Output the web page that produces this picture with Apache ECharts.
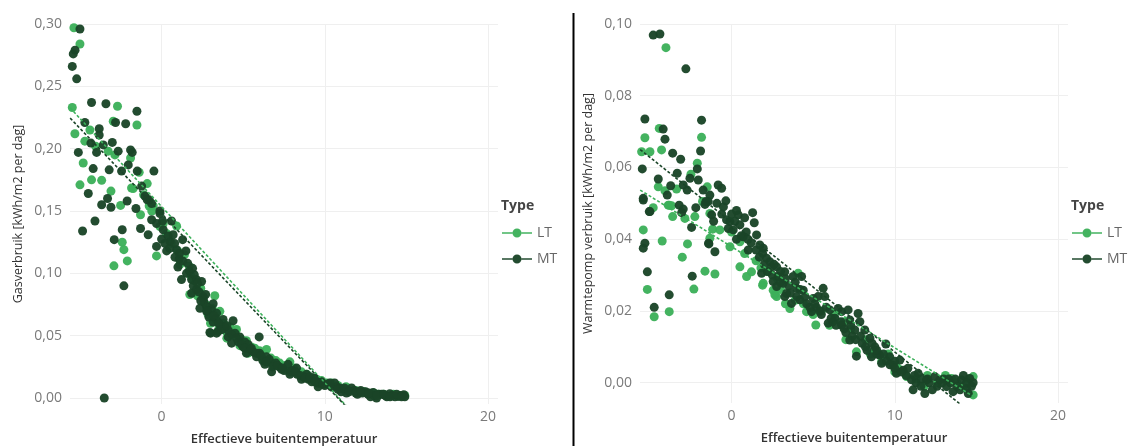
<!DOCTYPE html>
<html>
<head>
<meta charset="utf-8">
<script src="https://cdn.jsdelivr.net/npm/echarts@6/dist/echarts.min.js"></script>
<style>
html,body{margin:0;padding:0;background:#fff;}
#chart{width:1135px;height:446px;}
</style>
</head>
<body>
<div id="chart"></div>
<script>
// ---------- data ----------
const typeNames = ['LT', 'MT'];
const xTitle = 'Effectieve buitentemperatuur';
const yTitleGas = 'Gasverbruik [kWh/m2 per dag]';
const yTitleWp = 'Warmtepomp verbruik [kWh/m2 per dag]';

// Left panel: gas use, LT
const gasLT = [
 [-5.37,0.297],[-5.0,0.284],[-5.47,0.233],[-2.7,0.234],[-2.96,0.222],[-1.51,0.219],[-4.39,0.215],[-5.31,0.212],
 [-4.7,0.206],[-4.04,0.202],[-3.27,0.198],[-2.86,0.195],[-1.9,0.1925],[-4.8,0.1885],[-1.37,0.181],[-4.29,0.175],
 [-3.67,0.1746],[-5.0,0.171],[-0.88,0.172],[-1.84,0.1685],[-3.1,0.166],[-1.74,0.168],[-2.51,0.1545],[-0.76,0.154],
 [-1.29,0.147],[-0.51,0.154],[-2.41,0.125],[-2.31,0.119],[-2.1,0.110],[-2.92,0.106],[-0.1,0.1376],[0.92,0.138],
 [-0.31,0.114],[1.12,0.107],[1.69,0.1056],[1.73,0.083],[2.85,0.067],[3.26,0.082],[3.57,0.0695],[3.98,0.053],
 [4.59,0.055],[5.71,0.040],[6.43,0.039],[7.24,0.028],[7.86,0.029],[8.57,0.021],[10.41,0.012],
 [0.3,0.132],[0.6,0.124],[1.4,0.115],[2.0,0.094],[2.4,0.088],[2.7,0.075],[3.1,0.072],[3.4,0.062],[3.8,0.060],
 [4.2,0.057],[4.5,0.050],[4.9,0.047],[5.2,0.046],[5.5,0.041],[6.0,0.038],[6.7,0.032],[7.0,0.030],[7.6,0.026],
 [8.1,0.024],[8.9,0.019],[9.3,0.016],[9.8,0.014],[10.1,0.012],[10.8,0.010],[11.3,0.009],[11.9,0.006],[12.4,0.005],
 [13.0,0.004],[13.6,0.003],[14.2,0.003],[14.6,0.002],[-0.6,0.150],[-1.1,0.163],[0.1,0.140],
 [1.0,0.118],[1.8,0.098],[2.2,0.082],[3.0,0.060],[3.5,0.055],[4.0,0.048],[4.8,0.042],[5.3,0.036],[6.2,0.031],
 [6.9,0.027],[7.5,0.023],[8.4,0.019],[9.0,0.016],[9.6,0.012],[10.5,0.009],[12.0,0.005],[13.3,0.003],[14.4,0.002],[14.9,0.002]
];
// Left panel: gas use, MT
const gasMT = [
 [-5.0,0.296],[-5.3,0.279],[-5.41,0.276],[-5.47,0.266],[-5.2,0.256],[-4.29,0.237],[-3.41,0.236],[-1.51,0.230],
 [-2.82,0.221],[-2.2,0.220],[-4.7,0.221],[-3.82,0.216],[-4.33,0.2045],[-3.82,0.211],[-3.57,0.203],[-3.02,0.205],
 [-3.98,0.197],[-2.66,0.198],[-1.9,0.199],[-1.8,0.197],[-5.1,0.197],[-2.04,0.187],[-1.49,0.182],[-4.19,0.184],
 [-3.21,0.183],[-2.45,0.182],[-0.47,0.182],[-1.22,0.170],[-4.49,0.164],[-3.31,0.160],[-1.02,0.162],[-0.76,0.159],
 [-2.11,0.158],[-3.67,0.155],[-3.1,0.153],[-1.57,0.152],[-0.1,0.150],[-0.88,0.159],[-0.61,0.156],[-0.1,0.148],
 [-4.08,0.142],[-4.84,0.134],[-2.41,0.135],[-2.9,0.127],[-2.31,0.090],[-3.51,0.0],[-1.29,0.136],[-0.82,0.131],
 [-0.61,0.143],[-0.31,0.140],[0.06,0.142],[0.61,0.142],[0.1,0.135],[0.0,0.1275],[0.51,0.1256],[0.71,0.131],
 [1.29,0.127],[-0.31,0.1216],[0.31,0.118],[0.92,0.119],[1.49,0.118],[0.82,0.113],[1.08,0.1115],[1.53,0.100],
 [1.22,0.095],[1.84,0.095],[2.14,0.095],[1.94,0.090],[1.84,0.084],[2.14,0.087],[2.55,0.0815],[2.35,0.072],
 [2.76,0.0735],[3.06,0.071],[3.16,0.0756],[3.37,0.068],[3.0,0.052],[3.37,0.052],[2.45,0.0935],[2.55,0.080],
 [2.76,0.0695],[3.16,0.061],[3.77,0.063],[4.38,0.062],[2.96,0.0526],[3.47,0.0534],[4.08,0.049],[4.79,0.049],
 [4.29,0.044],[5.1,0.045],[5.98,0.049],[5.41,0.039],[5.2,0.036],[5.82,0.033],[6.43,0.033],[6.33,0.027],
 [6.84,0.027],[7.75,0.027],[7.35,0.023],[6.74,0.021],[8.27,0.024],[7.86,0.019],[8.88,0.019],[8.57,0.015],
 [9.39,0.016],[9.8,0.013],[9.59,0.009],[10.2,0.011],[10.72,0.009],[11.12,0.007],[11.64,0.008],[12.14,0.005],
 [12.65,0.003],[12.96,0.0045],[13.47,0.003],[13.98,0.0035],[14.49,0.0013],[14.84,0.0027],[11.33,0.004],[13.17,0.0],
 [0.4,0.130],[0.2,0.124],[1.0,0.105],[1.6,0.108],[2.0,0.099],[2.3,0.085],[2.6,0.077],[2.9,0.065],[3.3,0.064],
 [3.6,0.058],[3.9,0.057],[4.1,0.054],[4.5,0.052],[4.7,0.045],[5.0,0.041],[5.3,0.043],[5.6,0.037],[6.0,0.036],
 [6.2,0.030],[6.6,0.031],[7.0,0.028],[7.2,0.025],[7.5,0.022],[8.0,0.022],[8.3,0.019],[8.7,0.017],[9.0,0.015],
 [9.2,0.013],[9.6,0.012],[10.0,0.010],[10.4,0.009],[10.9,0.008],[11.4,0.006],[11.8,0.006],[12.3,0.004],[12.5,0.005],
 [13.0,0.002],[13.3,0.003],[13.7,0.002],[14.1,0.002],[14.3,0.001],[14.6,0.002],[14.9,0.001],[10.6,0.012],[11.0,0.005],
 [12.0,0.003],[12.8,0.001],[13.8,0.001],
 [0.5,0.120],[0.8,0.124],[1.1,0.116],[1.3,0.110],[1.7,0.102],[1.9,0.104],[2.2,0.092],[2.4,0.078],[2.7,0.083],
 [2.8,0.070],[3.2,0.066],[3.5,0.060],[3.7,0.055],[4.0,0.058],[4.3,0.051],[4.6,0.048],[4.9,0.043],[5.1,0.040],
 [5.5,0.040],[5.8,0.036],[6.1,0.034],[6.4,0.029],[6.8,0.025],[7.1,0.026],[7.4,0.024],[7.9,0.021],[8.2,0.021],
 [8.5,0.018],[8.8,0.016],[9.1,0.017],[9.4,0.013],[9.9,0.011],[10.3,0.012],[10.8,0.007],[11.2,0.008],[11.5,0.005],
 [11.9,0.004],[12.2,0.006],[12.7,0.004],[13.2,0.002],[13.6,0.003],[14.0,0.001],[14.4,0.003],[14.7,0.001]
];
// Right panel: heat pump use, LT
const wpLT = [
 [-4.02,0.0934],[-4.43,0.0709],[-5.31,0.0683],[-1.84,0.0684],[-5.51,0.0644],[-5.0,0.0644],[-4.29,0.0649],[-2.1,0.0612],
 [-2.49,0.0581],[-4.49,0.0546],[-3.37,0.054],[-1.49,0.0546],[-3.88,0.0495],[-3.67,0.0493],[-4.8,0.0488],[-4.08,0.0535],
 [-3.82,0.0495],[-3.61,0.0463],[-2.86,0.0458],[-2.25,0.0463],[-1.78,0.0505],[-1.33,0.0472],[-1.16,0.0428],[-0.72,0.0426],
 [-1.33,0.0403],[-0.1,0.0379],[0.51,0.0393],[0.51,0.0323],[0.92,0.0296],[1.22,0.0309],[1.9,0.0272],[2.65,0.0245],
 [-5.41,0.0426],[-4.25,0.0395],[-2.7,0.0387],[-3.02,0.035],[-2.31,0.0261],[-1.63,0.0311],[-1.02,0.0303],[-5.16,0.026],
 [-4.74,0.0184],[-3.82,0.0198],[1.94,0.0277],[2.55,0.0258],[2.76,0.024],[3.57,0.0207],[4.08,0.0305],[4.59,0.0198],
 [5.16,0.0161],[7.65,0.0086],[10.72,0.0017],[13.47,0.0012],[14.8,0.0017],[14.8,-0.0034],
 [0.0,0.042],[1.5,0.034],[2.2,0.031],[3.0,0.026],[3.9,0.023],[5.5,0.020],[6.3,0.019],[6.9,0.017],[7.3,0.015],
 [8.2,0.012],[8.8,0.009],[9.6,0.008],[10.2,0.004],[11.3,0.001],[12.0,0.002],[12.6,0.0],[13.1,0.002],[14.2,-0.001],[14.5,0.001],
 [0.8,0.036],[1.8,0.032],[2.8,0.029],[3.3,0.022],[4.4,0.022],[5.0,0.019],[6.0,0.016],[7.0,0.012],[8.5,0.008],
 [9.2,0.006],[10.0,0.003],[11.8,-0.001],[13.8,0.0]
];
// Right panel: heat pump use, MT
const wpMT = [
 [-4.8,0.0969],[-4.39,0.0972],[-2.8,0.0875],[-5.31,0.0735],[-1.84,0.0732],[-4.19,0.0707],[-4.08,0.0679],[-3.61,0.064],
 [-3.12,0.0623],[-1.9,0.0646],[-2.1,0.0596],[-5.47,0.0596],[-3.33,0.0584],[-2.55,0.057],[-2.04,0.0565],[-4.49,0.0568],
 [-3.73,0.0549],[-2.96,0.0551],[-2.72,0.0537],[-0.82,0.0551],[-0.61,0.0542],[-3.94,0.0523],[-5.41,0.0514],[-1.74,0.0537],
 [-1.33,0.0523],[-1.43,0.0505],[-3.21,0.0495],[-2.96,0.0484],[-5.04,0.0477],[-2.19,0.0488],[-0.35,0.0507],[-1.63,0.0497],
 [0.41,0.0468],[1.29,0.0474],[-5.41,0.0509],[-5.0,0.0477],[-3.06,0.0474],[-2.45,0.0433],[-1.57,0.0505],[-1.22,0.0468],
 [-0.31,0.0454],[-0.1,0.0449],[-1.41,0.0389],[-1.02,0.0365],[0.1,0.0426],[0.51,0.044],[1.39,0.0446],[0.71,0.0407],
 [1.02,0.037],[1.53,0.0412],[1.73,0.0384],[1.9,0.0361],[1.84,0.0305],[2.14,0.0347],[2.45,0.0323],[2.55,0.0282],
 [2.76,0.0268],[3.16,0.0277],[3.26,0.024],[-5.31,0.0389],[-5.41,0.0375],[-1.39,0.0387],[-2.41,0.0297],[-5.16,0.0309],
 [-3.82,0.0245],[-4.74,0.021],[1.94,0.0375],[2.35,0.0337],[2.76,0.0323],[2.86,0.0296],[3.26,0.0309],[3.37,0.0249],
 [3.67,0.0221],[3.77,0.0296],[4.29,0.0296],[3.98,0.0263],[4.39,0.0258],[4.18,0.0231],[4.9,0.0198],[5.0,0.0235],
 [5.61,0.0263],[5.3,0.024],[5.71,0.024],[5.92,0.0166],[6.02,0.0203],[6.53,0.0207],[6.74,0.0198],[7.14,0.0203],
 [6.33,0.018],[6.74,0.0161],[7.24,0.0175],[7.75,0.0193],[7.86,0.017],[7.55,0.0147],[7.24,0.0119],[8.16,0.0147],
 [8.47,0.0124],[7.65,0.0074],[8.78,0.01],[9.45,0.0108],[9.08,0.0077],[8.57,0.0072],[9.19,0.0054],[9.69,0.0072],
 [9.9,0.0049],[10.31,0.0063],[10.51,0.0035],[10.1,0.0026],[11.02,0.0008],[11.12,-0.002],[11.43,0.0026],[11.94,0.0008],
 [11.84,-0.003],[12.45,0.0017],[12.76,0.0008],[13.17,-0.0011],[13.57,-0.0025],[14.08,0.0008],[14.39,-0.0016],[14.59,0.0012],
 [-0.6,0.047],[-0.2,0.043],[0.3,0.040],[0.9,0.042],[1.2,0.039],[2.0,0.033],[2.5,0.030],[3.0,0.031],[3.5,0.027],
 [4.0,0.024],[4.6,0.022],[5.2,0.021],[5.5,0.019],[6.2,0.017],[6.9,0.015],[7.4,0.013],[8.0,0.011],[8.3,0.009],
 [8.9,0.008],[9.5,0.006],[10.0,0.006],[10.7,0.002],[11.3,0.0],[11.6,0.001],[12.1,0.0],[12.6,-0.001],[13.0,0.001],
 [13.4,0.0],[13.8,-0.001],[14.2,0.002],[14.8,0.0],[14.5,-0.003],
 [0.2,0.045],[0.6,0.041],[1.0,0.040],[1.5,0.037],[1.7,0.035],[2.2,0.031],[2.6,0.033],[3.0,0.028],[3.3,0.029],
 [3.6,0.025],[3.9,0.028],[4.2,0.026],[4.5,0.024],[4.8,0.021],[5.1,0.022],[5.4,0.020],[5.8,0.021],[6.1,0.018],
 [6.4,0.016],[6.7,0.017],[7.0,0.014],[7.3,0.016],[7.6,0.012],[7.9,0.013],[8.2,0.010],[8.6,0.011],[8.9,0.009],
 [9.3,0.008],[9.7,0.005],[10.0,0.004],[10.4,0.003],[10.8,0.004],[11.2,0.002],[11.6,-0.001],[12.0,0.001],[12.3,-0.002],
 [12.9,0.000],[13.3,0.001],[13.7,0.001],[14.0,-0.002],[14.4,0.000],[14.7,-0.001],
 [-0.9,0.050],[-0.5,0.049],[0.0,0.047],[0.3,0.048],[0.8,0.046],[-1.1,0.045]
];
// Trend lines (end points)
const gasTrendLT = [[-5.6,0.2327],[14.9,-0.057]];
const gasTrendMT = [[-5.6,0.2245],[14.9,-0.056]];
const wpTrendLT = [[-5.6,0.0537],[14.9,-0.0041]];
const wpTrendMT = [[-5.6,0.065],[14.9,-0.0092]];

// ---------- chart ----------
const cLT = '#3cb05a';
const cMT = '#1a4528';
const font = "'Open Sans', 'Noto Sans', sans-serif";
const legendIcon = 'path://M0,4.2h10.5v1.6h-10.5z M19.5,4.2h10.5v1.6h-10.5z M10.5,5a4.5,4.5 0 1,0 9,0a4.5,4.5 0 1,0 -9,0z';

function isMultiple(v, step) {
  const r = v / step;
  return Math.abs(r - Math.round(r)) < 1e-6;
}
function xAxisCfg(gi) {
  return {
    type: 'value', gridIndex: gi, min: -5.61, max: 20.61,
    minInterval: 10, maxInterval: 10,
    name: xTitle, nameLocation: 'middle', nameGap: 29,
    nameTextStyle: {fontFamily: font, fontSize: 13, fontWeight: 600, color: '#333'},
    axisLine: {show: false}, axisTick: {show: false},
    axisLabel: {fontFamily: font, fontSize: 14, color: '#7a7a7a', margin: 6,
      showMinLabel: false, showMaxLabel: false,
      formatter: v => isMultiple(v, 10) ? String(Math.round(v)) : ''},
    splitLine: {show: true, showMinLine: false, showMaxLine: false, lineStyle: {color: '#efefef', width: 1}}
  };
}
function yAxisCfg(gi, min, max, step, title) {
  return {
    type: 'value', gridIndex: gi, min: min, max: max,
    minInterval: step, maxInterval: step,
    name: title, nameLocation: 'middle', nameGap: 45,
    nameTextStyle: {fontFamily: font, fontSize: 12.5, color: '#333'},
    axisLine: {show: false}, axisTick: {show: false},
    axisLabel: {fontFamily: font, fontSize: 14, color: '#7a7a7a', margin: 8,
      showMinLabel: false,
      formatter: v => isMultiple(v, step) ? v.toFixed(2).replace('.', ',') : ''},
    splitLine: {show: true, showMinLine: false, showMaxLine: true, lineStyle: {color: '#efefef', width: 1}}
  };
}
function scatter(name, data, color, gi) {
  return {type: 'scatter', name: name, xAxisIndex: gi, yAxisIndex: gi, data: data,
    symbolSize: 9, itemStyle: {color: color, opacity: 0.96}};
}
function trend(data, color, gi) {
  return {type: 'line', name: 'trend', xAxisIndex: gi, yAxisIndex: gi, data: data,
    symbol: 'none', clip: true, silent: true,
    lineStyle: {color: color, width: 1.6, type: [3, 2]}, z: 5};
}
function legendCfg(left) {
  return {
    data: typeNames.map(n => ({name: n, icon: legendIcon})),
    orient: 'vertical', left: left, top: 220, itemWidth: 30, itemHeight: 9, itemGap: 10,
    textStyle: {fontFamily: font, fontSize: 14, color: '#666', lineHeight: 16}
  };
}

const chart = echarts.init(document.getElementById('chart'), null, {renderer: 'canvas'});
chart.setOption({
  backgroundColor: '#fff',
  animation: false,
  title: [
    {text: 'Type', left: 496, top: 194, textStyle: {fontFamily: font, fontSize: 14, fontWeight: 'bold', color: '#444'}},
    {text: 'Type', left: 1066, top: 194, textStyle: {fontFamily: font, fontSize: 14, fontWeight: 'bold', color: '#444'}}
  ],
  legend: [legendCfg(497), legendCfg(1067)],
  grid: [
    {left: 70, top: 24, width: 428, height: 380, containLabel: false, outerBoundsMode: 'none'},
    {left: 640, top: 24, width: 428, height: 379, containLabel: false, outerBoundsMode: 'none'}
  ],
  xAxis: [xAxisCfg(0), xAxisCfg(1)],
  yAxis: [
    yAxisCfg(0, -0.0048, 0.30, 0.05, yTitleGas),
    yAxisCfg(1, -0.00566, 0.10, 0.02, yTitleWp)
  ],
  graphic: [
    {type: 'line', shape: {x1: 573.5, y1: 13, x2: 573.5, y2: 446}, style: {stroke: '#000', lineWidth: 2}, silent: true}
  ],
  series: [
    scatter(typeNames[0], gasLT, cLT, 0),
    scatter(typeNames[1], gasMT, cMT, 0),
    scatter(typeNames[0], wpLT, cLT, 1),
    scatter(typeNames[1], wpMT, cMT, 1),
    trend(gasTrendLT, cLT, 0),
    trend(gasTrendMT, cMT, 0),
    trend(wpTrendLT, cLT, 1),
    trend(wpTrendMT, cMT, 1)
  ]
});
</script>
</body>
</html>
